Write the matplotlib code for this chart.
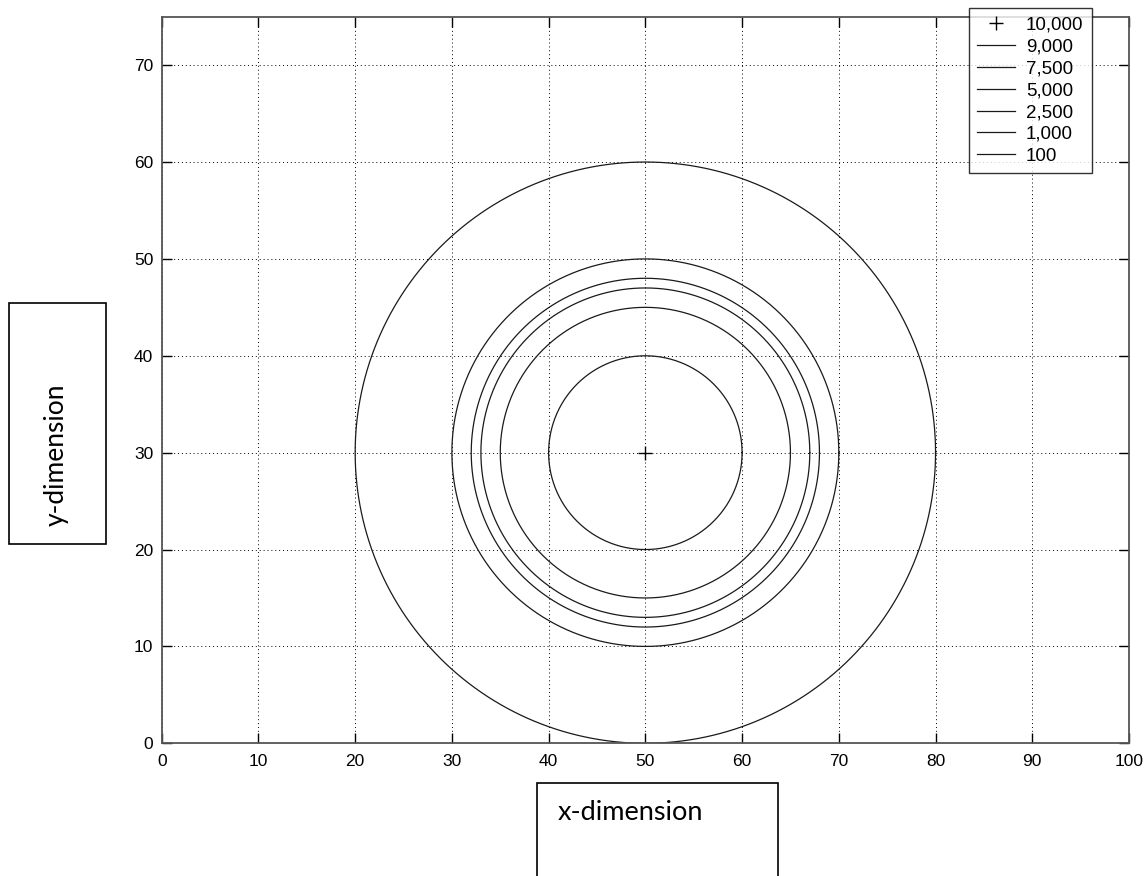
import numpy as np
import matplotlib
matplotlib.use("Agg")
import matplotlib.pyplot as plt
from matplotlib.patches import Rectangle

# contour levels and their circle radii around the source point
center_x = 50
center_y = 30
peak_label = "10,000"
levels = ["9,000", "7,500", "5,000", "2,500", "1,000", "100"]
radii = [10, 15, 17, 18, 20, 30]

x_ticks = [0, 10, 20, 30, 40, 50, 60, 70, 80, 90, 100]
y_ticks = [0, 10, 20, 30, 40, 50, 60, 70]

W, H = 1147, 876
plt.rcParams['font.family'] = ['Liberation Sans', 'DejaVu Sans']

fig = plt.figure(figsize=(W / 100, H / 100), dpi=100)


def fx(px):
    return px / W


def fy(py):
    return 1 - py / H


ax = fig.add_axes([fx(161.7), fy(743.3), fx(1129) - fx(161.7), fy(16.7) - fy(743.3)])

theta = np.linspace(0, 2 * np.pi, 721)
ax.plot([center_x], [center_y], marker='+', color='black', markersize=10,
        markeredgewidth=1.0, linestyle='none', label=peak_label)
for lab, r in zip(levels, radii):
    ax.plot(center_x + r * np.cos(theta), center_y + r * np.sin(theta),
            color='#1a1a1a', linewidth=0.9, label=lab)

ax.set_xlim(0, 100)
ax.set_ylim(0, 75)
ax.set_xticks(x_ticks)
ax.set_yticks(y_ticks)
ax.grid(True, color='black', linestyle=(0, (1, 3)), linewidth=0.7)
ax.tick_params(direction='in', length=7.5, width=1, top=True, right=True,
               labelsize=12.5, colors='black', pad=6)
ax.tick_params(axis='x', pad=8)
for s in ax.spines.values():
    s.set_color('#555555')
    s.set_linewidth(1.3)

# legend box: upper right corner at pixel (1092, 8) of the figure
leg = ax.legend(loc='upper right', bbox_to_anchor=(fx(1092), fy(8.3)),
                bbox_transform=fig.transFigure,
                fontsize=13.5, frameon=True, fancybox=False, borderpad=0.45,
                labelspacing=0.25, handlelength=2.0, handletextpad=0.6,
                borderaxespad=0)
leg.get_frame().set_edgecolor('black')
leg.get_frame().set_linewidth(1.0)

# label boxes
box_font = ['Lato', 'DejaVu Sans']
fig.patches.append(Rectangle((fx(9), fy(544)), fx(106) - fx(9), fy(303.3) - fy(544),
                             transform=fig.transFigure, fill=False,
                             edgecolor='black', linewidth=1.2))
fig.text(fx(56), fy(455), "y-dimension", rotation=90, ha='center', va='center',
         fontsize=19, family=box_font)
fig.patches.append(Rectangle((fx(537.3), fy(880)), fx(777.7) - fx(537.3), fy(783.3) - fy(880),
                             transform=fig.transFigure, fill=False,
                             edgecolor='black', linewidth=1.2, clip_on=False))
fig.text(fx(558), fy(813), "x-dimension", ha='left', va='center',
         fontsize=19.5, family=box_font)

fig.savefig("out.png", dpi=100)
